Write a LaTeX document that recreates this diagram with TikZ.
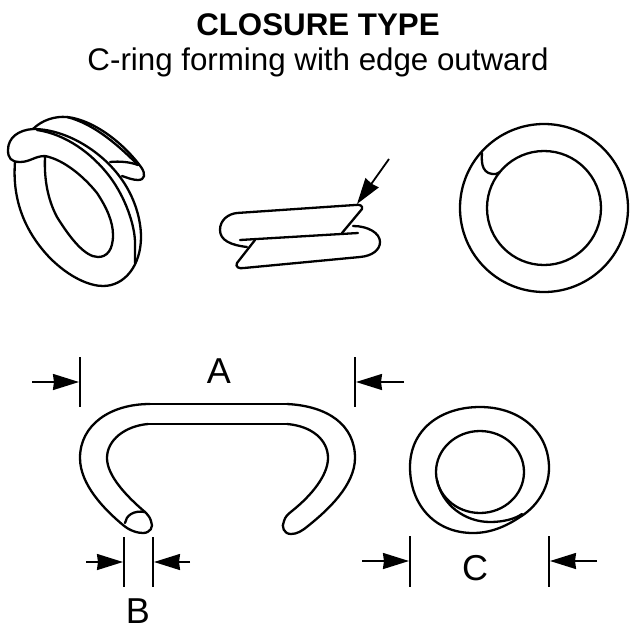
\documentclass[tikz,border=0pt]{standalone}
\usepackage{fontspec}
\setmainfont{Liberation Sans}
\usetikzlibrary{arrows.meta}
\tikzset{
  ringline/.style={black,line width=2.3pt,line join=round,line cap=round},
  dimline/.style={black,line width=1.8pt},
  dimarrow/.style={black,line width=1.8pt,-{Stealth[length=26pt,width=16pt,inset=1pt]}},
  dimlabel/.style={inner sep=0pt,font=\fontsize{36}{40}\selectfont}
}
\begin{document}
\begin{tikzpicture}[x=1pt,y=-1pt]
  \useasboundingbox (0,0) rectangle (640,640);
  % Headings
  \node (title)    at (318,25) {\fontsize{31.3}{34}\selectfont\bfseries CLOSURE TYPE};
  \node (subtitle) at (318,62) {\fontsize{31.3}{34}\selectfont C-ring forming with edge outward};
  % Left-hand ring
  \draw[ringline] (33,129) .. controls (18,130) and (8,138) .. (8,150) .. controls (8,158) and (11,162) .. (20,162)
    .. controls (30,162) and (35,156) .. (45,156) .. controls (65,160) and (85,178) .. (97,193)
    .. controls (107,208) and (113,222) .. (113,235) .. controls (113,250) and (107,257) .. (98,257)
    .. controls (85,257) and (70,238) .. (57,217) .. controls (48,200) and (44,180) .. (45,157);
  \draw[ringline] (33,129) .. controls (65,129) and (100,150) .. (120,177) .. controls (135,197) and (141,220) .. (141,237)
    .. controls (141,265) and (125,286) .. (103,286) .. controls (90,286) and (70,278) .. (50,258)
    .. controls (25,232) and (12,200) .. (15,162);
  \draw[ringline] (37,130) .. controls (65,134) and (92,153) .. (110,177) .. controls (125,197) and (135,225) .. (135,243) -- (135,263);
  \draw[ringline] (33,129) .. controls (42,120) and (55,116) .. (67,117) .. controls (95,120) and (125,145) .. (141,167)
    .. controls (146,174) and (145,180) .. (138,180) .. controls (133,180) and (128,178) .. (122,176);
  \draw[ringline] (67,117) .. controls (95,124) and (120,147) .. (138,165);
  \draw[ringline] (110,162) .. controls (120,161) and (130,162) .. (138,165);
  % Edge view
  \draw[ringline] (247,247) .. controls (230,245) and (220,240) .. (220,230) .. controls (220,220) and (228,214) .. (237,213)
    -- (355,205) .. controls (360,204) and (363,206) .. (362,209) -- (342,233);
  \draw[ringline] (240,240) -- (358,233);
  \draw[ringline] (255,240) -- (237,263) .. controls (235,267) and (239,269) .. (244,268)
    -- (360,257) .. controls (372,256) and (380,250) .. (380,242) .. controls (380,233) and (368,226) .. (353,226);
  \coordinate (edgetail) at (389,159);
  \coordinate (edgetip)  at (357,204);
  \draw[dimarrow] (edgetail) -- (edgetip);
  % Right-hand ring
  \draw[ringline] (544,208) circle (84);
  \draw[ringline] (544,208) circle (57);
  \draw[ringline] (482,153) .. controls (481,165) and (483,175) .. (496,174) -- (500,172);
  % Side view of the open ring
  \draw[ringline] (150,404) -- (287,404);
  \draw[ringline] (148,424) -- (287,424);
  \draw[ringline] (150,404) .. controls (110,404) and (80,425) .. (80,458) .. controls (80,485) and (105,510) .. (123,525)
    .. controls (130,531) and (138,533) .. (143,533) .. controls (150,533) and (154,527) .. (151,521) .. controls (150,517) and (147,514) .. (145,512);
  \draw[ringline] (148,424) .. controls (125,426) and (107,440) .. (107,458) .. controls (107,475) and (125,495) .. (145,512);
  \draw[ringline] (125,523) .. controls (126,516) and (133,510) .. (145,512);
  \draw[ringline] (287,404) .. controls (328,406) and (355,425) .. (355,458) .. controls (355,485) and (328,510) .. (308,526)
    .. controls (302,531) and (297,534) .. (291,534) .. controls (284,534) and (281,527) .. (284,521) .. controls (285,517) and (288,514) .. (292,511);
  \draw[ringline] (287,424) .. controls (312,426) and (328,440) .. (328,458) .. controls (328,475) and (312,495) .. (292,511);
  % End view
  \draw[ringline] (410,467) .. controls (410,430) and (440,407) .. (480,407) .. controls (520,407) and (549,432) .. (549,468)
    .. controls (549,490) and (535,508) .. (520,517) .. controls (505,527) and (490,533) .. (473,533) .. controls (435,533) and (410,505) .. (410,467);
  \draw[ringline] (480,472) ellipse (44 and 41);
  \draw[ringline] (437,480) .. controls (442,505) and (465,522) .. (490,522) .. controls (503,522) and (515,519) .. (522,514);
  % Dimension A
  \node[dimlabel] (labelA) at (219,371) {A};
  \coordinate (A1top) at (80,357);   \coordinate (A1bot) at (80,407);
  \coordinate (A2top) at (355,357);  \coordinate (A2bot) at (355,407);
  \coordinate (A1in)  at (32,382);   \coordinate (A1out) at (79,382);
  \coordinate (A2in)  at (404,382);  \coordinate (A2out) at (356,382);
  \draw[dimline] (A1top) -- (A1bot);
  \draw[dimline] (A2top) -- (A2bot);
  \draw[dimarrow] (A1in) -- (A1out);
  \draw[dimarrow] (A2in) -- (A2out);
  % Dimension B
  \node[dimlabel] (labelB) at (138,611) {B};
  \coordinate (B1top) at (124,537);  \coordinate (B1bot) at (124,587);
  \coordinate (B2top) at (153,537);  \coordinate (B2bot) at (153,587);
  \coordinate (B1in)  at (86,562);   \coordinate (B1out) at (123,562);
  \coordinate (B2in)  at (190,562);  \coordinate (B2out) at (154,562);
  \draw[dimline] (B1top) -- (B1bot);
  \draw[dimline] (B2top) -- (B2bot);
  \draw[dimarrow] (B1in) -- (B1out);
  \draw[dimarrow] (B2in) -- (B2out);
  % Dimension C
  \node[dimlabel] (labelC) at (475,568) {C};
  \coordinate (C1top) at (410,536);  \coordinate (C1bot) at (410,587);
  \coordinate (C2top) at (549,536);  \coordinate (C2bot) at (549,587);
  \coordinate (C1in)  at (362,561);  \coordinate (C1out) at (409,561);
  \coordinate (C2in)  at (597,561);  \coordinate (C2out) at (550,561);
  \draw[dimline] (C1top) -- (C1bot);
  \draw[dimline] (C2top) -- (C2bot);
  \draw[dimarrow] (C1in) -- (C1out);
  \draw[dimarrow] (C2in) -- (C2out);
\end{tikzpicture}
\end{document}
